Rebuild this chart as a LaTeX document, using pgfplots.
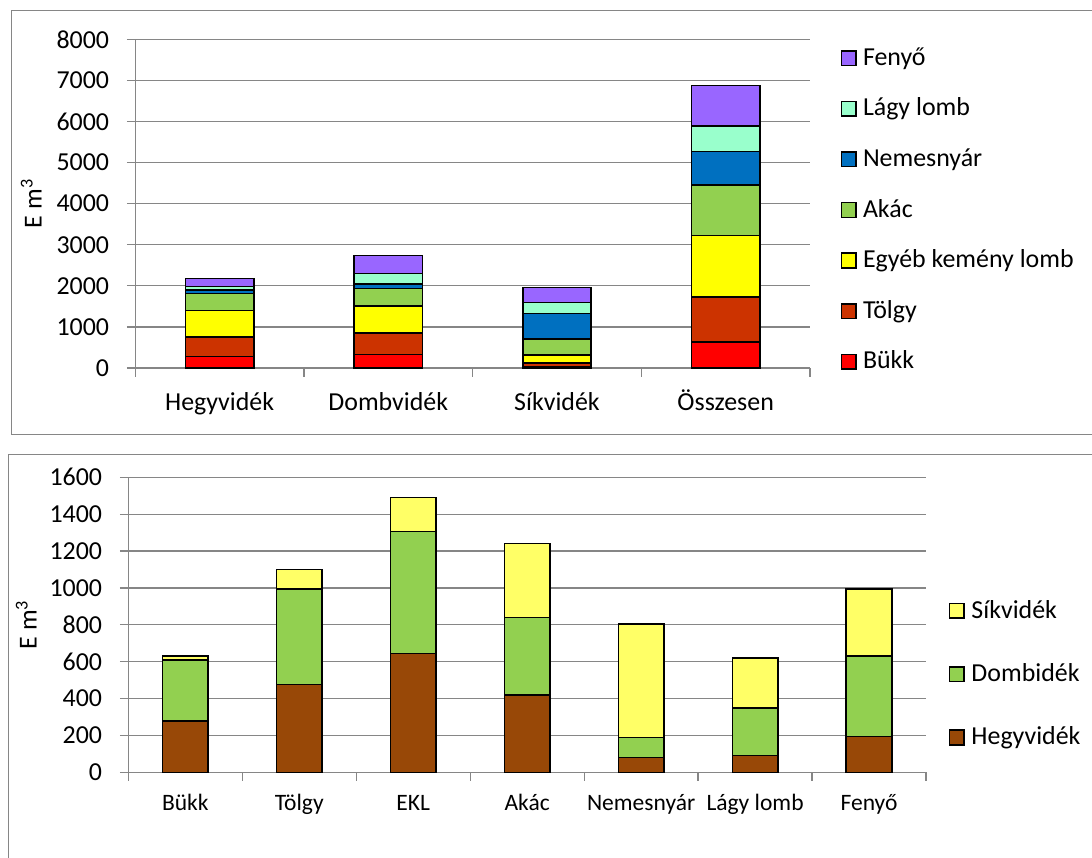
\documentclass[border=0pt]{standalone}
\usepackage{fontspec}
\setmainfont{Carlito}
\usepackage{pgfplots}
\pgfplotsset{compat=1.18}

\definecolor{gridgray}{HTML}{868686}
\definecolor{cBukk}{HTML}{FF0000}
\definecolor{cTolgy}{HTML}{CC3300}
\definecolor{cEKL}{HTML}{FFFF00}
\definecolor{cAkac}{HTML}{92D050}
\definecolor{cNemes}{HTML}{0070C0}
\definecolor{cLagy}{HTML}{99FFCC}
\definecolor{cFenyo}{HTML}{9966FF}
\definecolor{cHegy}{HTML}{984807}
\definecolor{cDomb}{HTML}{92D050}
\definecolor{cSik}{HTML}{FFFF66}

\newcommand\fsz{\fontsize{26}{30}\selectfont}
\newcommand\fsm{\fontsize{23.6}{28}\selectfont}

\pgfplotsset{
  sqlegend/.style={legend image code/.code={%
    \draw[##1, line width=1.5bp] (0bp,-6.7bp) rectangle (14.5bp,8bp);}},
  xlchart/.style={
    scale only axis,
    ybar stacked,
    axis x line*=bottom, axis y line*=left,
    axis line style={draw=gridgray, line width=1.2bp, -},
    ymajorgrids, grid style={draw=gridgray, line width=1.2bp},
    tick align=outside, major tick length=8.5bp,
    tick style={draw=gridgray, line width=1.2bp},
    xtick pos=bottom, ytick pos=left,
    /pgf/number format/assume math mode=true,
    /pgf/number format/1000 sep={},
    scaled y ticks=false,
    yticklabel style={font=\fsz, anchor=east, inner sep=0pt, xshift=-17.5bp},
    xticklabels={},
    ylabel={E m\textsuperscript{3}},
    legend style={draw=none, fill=none, inner sep=0pt, outer sep=0pt,
      anchor=north west, font=\fsz, column sep=6.5bp,
      nodes={inner sep=0pt, text height=20bp, text depth=7bp}},
    legend cell align=left,
    reverse legend,
    every axis plot post/.append style={draw=black, line width=1.5bp, sqlegend},
  },
}

\begin{document}
\begin{tikzpicture}
\path[use as bounding box] (0,0) rectangle (1092bp,-858bp);
\draw[gridgray, line width=1.2bp] (1100bp,-10.7bp) -- (11.7bp,-10.7bp) -- (11.7bp,-434.7bp) -- (1100bp,-434.7bp);
\draw[gridgray, line width=1.2bp] (1100bp,-454.5bp) -- (8.3bp,-454.5bp) -- (8.3bp,-870bp);

% felso: regionkent
\begin{axis}[
  xlchart,
  at={(135.3bp,-368bp)}, anchor=south west,
  width=674.7bp, height=328.7bp,
  bar width=0.405,
  xmin=-0.5, xmax=3.5, ymin=0, ymax=8000,
  ytick={0,1000,...,8000},
  xtick={-0.5,0.5,1.5,2.5,3.5},
  extra x ticks={0,1,2,3},
  extra x tick labels={Hegyvidék,Dombvidék,Síkvidék,Összesen},
  extra x tick style={major tick length=0pt,
    xticklabel style={font=\fsz, anchor=base, inner sep=0pt, yshift=-42.5bp}},
  every axis y label/.style={at={(axis description cs:-0.1387,0.5)}, rotate=90, anchor=base, font=\fsz},
  legend style={at={(axis description cs:1.0452,0.9818)}, row sep=23.6bp},
]
\addplot[fill=cBukk]  coordinates {(0,278) (1,331) (2,22)  (3,631)};
\addplot[fill=cTolgy] coordinates {(0,475) (1,520) (2,104) (3,1099)};
\addplot[fill=cEKL]   coordinates {(0,645) (1,660) (2,185) (3,1490)};
\addplot[fill=cAkac]  coordinates {(0,420) (1,420) (2,400) (3,1240)};
\addplot[fill=cNemes] coordinates {(0,80)  (1,110) (2,615) (3,805)};
\addplot[fill=cLagy]  coordinates {(0,90)  (1,260) (2,270) (3,620)};
\addplot[fill=cFenyo] coordinates {(0,195) (1,435) (2,365) (3,995)};
\legend{Bükk,Tölgy,Egyéb kemény lomb,Akác,Nemesnyár,Lágy lomb,Fenyő}
\end{axis}

% also: fafajonkent
\begin{axis}[
  xlchart,
  at={(128.3bp,-772.3bp)}, anchor=south west,
  width=797.7bp, height=295bp,
  bar width=0.4,
  xmin=-0.5, xmax=6.5, ymin=0, ymax=1600,
  ytick={0,200,...,1600},
  xtick={-0.5,0.5,...,6.5},
  extra x ticks={0,1,...,6},
  extra x tick labels={Bükk,Tölgy,EKL,Akác,Nemesnyár,Lágy lomb,Fenyő},
  extra x tick style={major tick length=0pt,
    xticklabel style={font=\fsm, anchor=base, inner sep=0pt, yshift=-38.4bp}},
  every axis y label/.style={at={(axis description cs:-0.1148,0.5)}, rotate=90, anchor=base, font=\fsz},
  legend style={at={(axis description cs:1.0288,0.5908)}, row sep=36.3bp},
]
\addplot[fill=cHegy] coordinates {(0,278) (1,475) (2,645) (3,420) (4,80)  (5,90)  (6,195)};
\addplot[fill=cDomb] coordinates {(0,331) (1,520) (2,660) (3,420) (4,110) (5,260) (6,435)};
\addplot[fill=cSik]  coordinates {(0,22)  (1,104) (2,185) (3,400) (4,615) (5,270) (6,365)};
\legend{Hegyvidék,Dombidék,Síkvidék}
\end{axis}
\end{tikzpicture}
\end{document}
